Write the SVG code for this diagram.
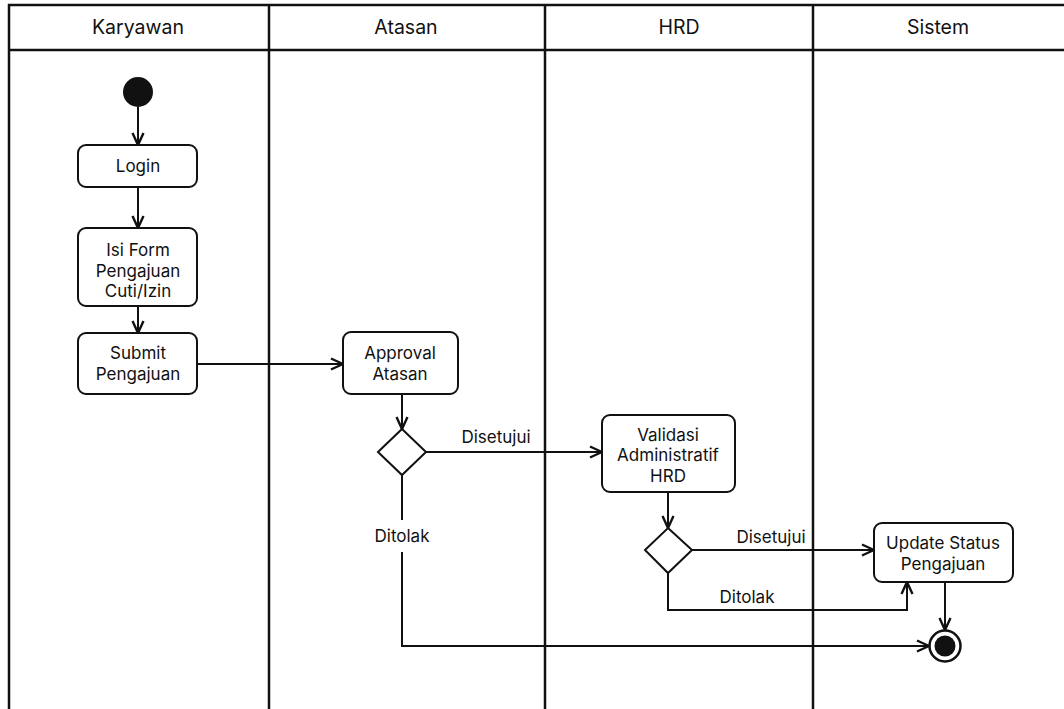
<svg xmlns="http://www.w3.org/2000/svg" width="1064" height="709" viewBox="0 0 1064 709">
  <style>
    text { font-family: Inter, "Liberation Sans", Arial, sans-serif; fill: #111; text-anchor: middle; }
    .hdr { font-size: 19.5px; }
    .lbl { font-size: 17px; }
    .lane { fill: none; stroke: #111; stroke-width: 2.5; }
    .act { fill: #fff; stroke: #111; stroke-width: 2; }
    .dec { fill: #fff; stroke: #111; stroke-width: 2; }
    .flow { fill: none; stroke: #111; stroke-width: 2; }
    .arr { marker-end: url(#head); }
  </style>
  <defs>
    <marker id="head" viewBox="0 0 14 14" refX="13" refY="7" markerWidth="14" markerHeight="14" markerUnits="userSpaceOnUse" orient="auto">
      <path d="M1,1.5 L13,7 L1,12.5" fill="none" stroke="#111" stroke-width="2.4" stroke-linejoin="miter"/>
    </marker>
  </defs>

  <rect width="1064" height="709" fill="#fff"/>

  <!-- swimlanes -->
  <g id="lanes">
    <path class="lane" d="M9,709 V5 H1064 M9,50 H1064 M269,5 V709 M545,5 V709 M813,5 V709"/>
    <text class="hdr" x="138" y="34">Karyawan</text>
    <text class="hdr" x="406" y="34">Atasan</text>
    <text class="hdr" x="679" y="34">HRD</text>
    <text class="hdr" x="938" y="34">Sistem</text>
  </g>

  <!-- connectors -->
  <g id="connectors">
    <path class="flow arr" d="M138,107 V145"/>
    <path class="flow arr" d="M138,187 V228"/>
    <path class="flow arr" d="M138,306 V333"/>
    <path class="flow arr" d="M197,364 H343"/>
    <path class="flow arr" d="M402,394 V429"/>
    <path class="flow arr" d="M426,452 H602"/>
    <text class="lbl" x="496" y="443">Disetujui</text>
    <path class="flow" d="M402,475 V520"/>
    <text class="lbl" x="402" y="542">Ditolak</text>
    <path class="flow arr" d="M402,552 V646 H929"/>
    <path class="flow arr" d="M668,492 V528"/>
    <path class="flow arr" d="M692,550 H874"/>
    <text class="lbl" x="771" y="543">Disetujui</text>
    <path class="flow arr" d="M668,573 V610 H907 V582"/>
    <text class="lbl" x="747" y="603">Ditolak</text>
    <path class="flow arr" d="M945,582 V630"/>
  </g>

  <g id="start">
    <circle cx="138" cy="92" r="15" fill="#111"/>
  </g>

  <g id="login">
    <rect class="act" x="78" y="145" width="119" height="42" rx="8"/>
    <text class="lbl" x="138" y="172">Login</text>
  </g>

  <g id="isi-form">
    <rect class="act" x="78" y="228" width="119" height="78" rx="8"/>
    <text class="lbl" x="138" y="256">Isi Form</text>
    <text class="lbl" x="138" y="277">Pengajuan</text>
    <text class="lbl" x="138" y="297">Cuti/Izin</text>
  </g>

  <g id="submit">
    <rect class="act" x="78" y="333" width="119" height="61" rx="8"/>
    <text class="lbl" x="138" y="359">Submit</text>
    <text class="lbl" x="138" y="380">Pengajuan</text>
  </g>

  <g id="approval">
    <rect class="act" x="343" y="332" width="115" height="62" rx="8"/>
    <text class="lbl" x="400" y="359">Approval</text>
    <text class="lbl" x="400" y="380">Atasan</text>
  </g>

  <g id="decision-atasan">
    <polygon class="dec" points="402,429 426,452 402,475 378,452"/>
  </g>

  <g id="validasi">
    <rect class="act" x="602" y="415" width="133" height="77" rx="8"/>
    <text class="lbl" x="668" y="441">Validasi</text>
    <text class="lbl" x="668" y="461">Administratif</text>
    <text class="lbl" x="668" y="482">HRD</text>
  </g>

  <g id="decision-hrd">
    <polygon class="dec" points="668,528 692,550 668,573 645,550"/>
  </g>

  <g id="update">
    <rect class="act" x="874" y="523" width="139" height="59" rx="8"/>
    <text class="lbl" x="943" y="549">Update Status</text>
    <text class="lbl" x="943" y="570">Pengajuan</text>
  </g>

  <g id="end">
    <circle cx="945" cy="646" r="15.5" fill="#fff" stroke="#111" stroke-width="2.5"/>
    <circle cx="945" cy="646" r="10.5" fill="#111"/>
  </g>
</svg>
